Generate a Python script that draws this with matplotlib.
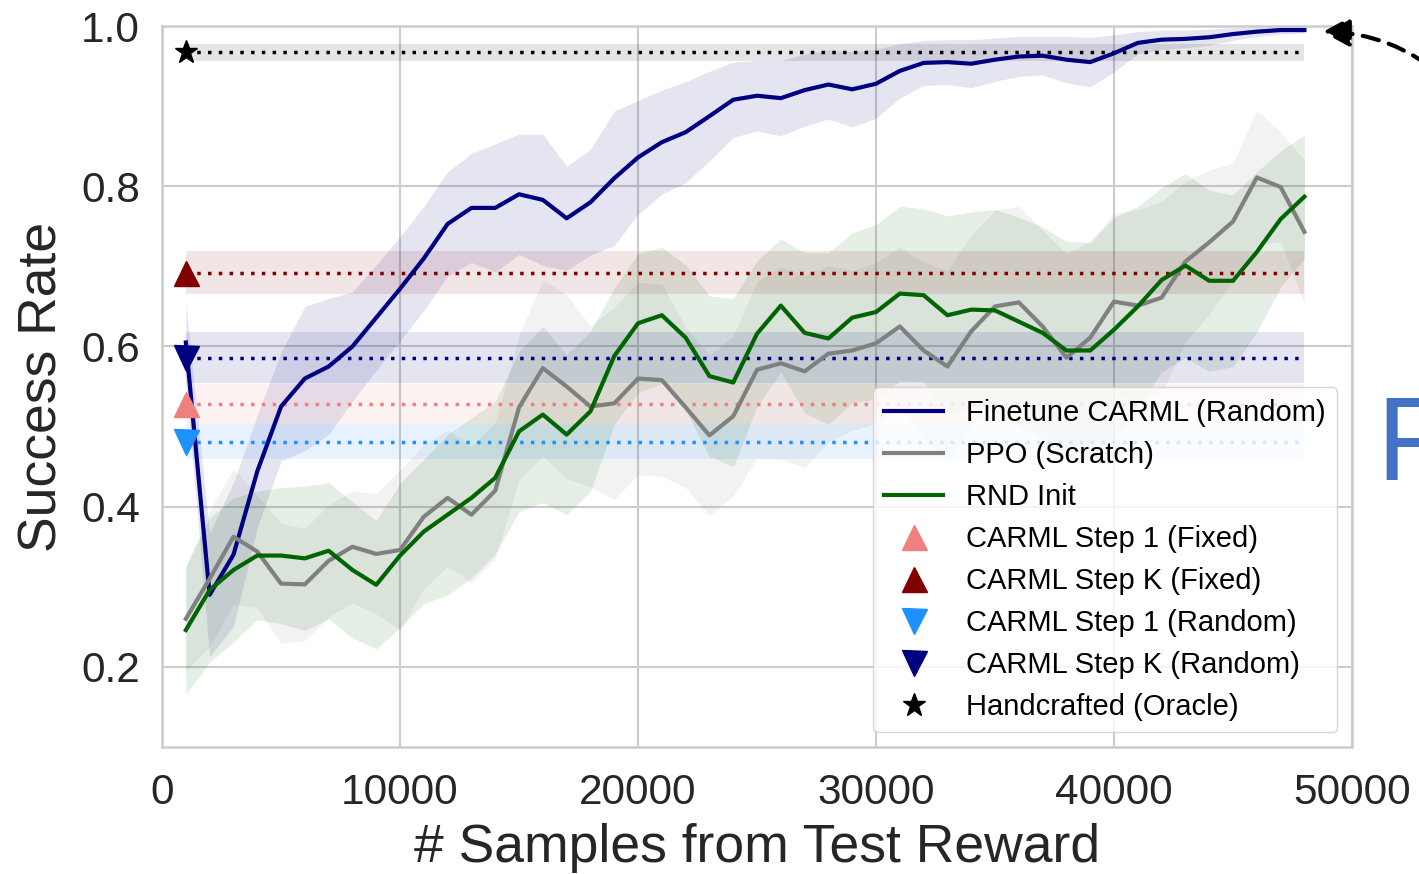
import matplotlib.pyplot as plt
import numpy as np

plt.rcParams["font.family"] = ["Liberation Sans", "DejaVu Sans"]

# x: samples from test reward (every 1000 steps)
samples = np.arange(1000, 49000, 1000)

finetune_mean = [0.605, 0.29, 0.34, 0.444, 0.525, 0.56, 0.575, 0.60, 0.636, 0.672,
                 0.71, 0.753, 0.773, 0.773, 0.79, 0.783, 0.76, 0.78, 0.81, 0.836,
                 0.855, 0.8675, 0.8875, 0.908, 0.913, 0.91, 0.92, 0.927, 0.921, 0.928,
                 0.944, 0.954, 0.955, 0.953, 0.958, 0.962, 0.963, 0.958, 0.955, 0.966,
                 0.979, 0.983, 0.984, 0.986, 0.99, 0.993, 0.995, 0.995]
finetune_std = [0.05, 0.077, 0.09, 0.07, 0.068, 0.09, 0.085, 0.068, 0.066, 0.065,
                0.065, 0.065, 0.068, 0.08, 0.075, 0.082, 0.065, 0.066, 0.084, 0.071,
                0.065, 0.063, 0.056, 0.047, 0.044, 0.047, 0.045, 0.043, 0.047, 0.043,
                0.034, 0.028, 0.028, 0.03, 0.027, 0.025, 0.024, 0.029, 0.031, 0.023,
                0.014, 0.012, 0.011, 0.01, 0.008, 0.006, 0.005, 0.004]

ppo_mean = [0.26, 0.31, 0.3625, 0.344, 0.304, 0.303, 0.3325, 0.35, 0.341, 0.346,
            0.3875, 0.411, 0.39, 0.42, 0.524, 0.573, 0.55, 0.525, 0.529, 0.56,
            0.558, 0.524, 0.489, 0.513, 0.571, 0.579, 0.569, 0.591, 0.595, 0.604,
            0.625, 0.595, 0.575, 0.619, 0.65, 0.655, 0.625, 0.586, 0.611, 0.656,
            0.651, 0.661, 0.706, 0.73, 0.756, 0.811, 0.799, 0.743]
ppo_std = [0.065, 0.085, 0.085, 0.07, 0.075, 0.07, 0.07, 0.07, 0.075, 0.1,
           0.09, 0.085, 0.085, 0.085, 0.09, 0.11, 0.115, 0.1, 0.12, 0.12,
           0.12, 0.1, 0.1, 0.1, 0.11, 0.12, 0.12, 0.11, 0.1, 0.1,
           0.1, 0.11, 0.12, 0.12, 0.12, 0.12, 0.12, 0.13, 0.12, 0.11,
           0.12, 0.12, 0.1, 0.09, 0.073, 0.084, 0.068, 0.09]

rnd_mean = [0.246, 0.296, 0.321, 0.339, 0.339, 0.3355, 0.345, 0.321, 0.3025, 0.339,
            0.369, 0.39, 0.411, 0.436, 0.494, 0.515, 0.49, 0.519, 0.588, 0.629,
            0.639, 0.611, 0.563, 0.555, 0.616, 0.651, 0.617, 0.61, 0.636, 0.643,
            0.666, 0.664, 0.639, 0.646, 0.645, 0.631, 0.617, 0.595, 0.595, 0.621,
            0.65, 0.683, 0.701, 0.682, 0.682, 0.718, 0.759, 0.787]
rnd_std = [0.08, 0.09, 0.09, 0.08, 0.085, 0.09, 0.085, 0.085, 0.08, 0.09,
           0.09, 0.1, 0.1, 0.095, 0.1, 0.11, 0.1, 0.1, 0.085, 0.087,
           0.085, 0.091, 0.1, 0.105, 0.091, 0.083, 0.1, 0.107, 0.106, 0.109,
           0.109, 0.108, 0.124, 0.122, 0.126, 0.13, 0.132, 0.136, 0.135, 0.14,
           0.125, 0.115, 0.115, 0.113, 0.107, 0.1, 0.085, 0.077]

# constant baselines: (label, mean, std, colour, marker, marker size)
step1_fixed = ("CARML Step 1 (Fixed)", 0.528, 0.025, "lightcoral", "^", 18)
stepk_fixed = ("CARML Step K (Fixed)", 0.692, 0.027, "maroon", "^", 18)
step1_random = ("CARML Step 1 (Random)", 0.481, 0.022, "dodgerblue", "v", 18)
stepk_random = ("CARML Step K (Random)", 0.586, 0.032, "navy", "v", 18)
oracle = ("Handcrafted (Oracle)", 0.967, 0.011, "black", "*", 17)

fig = plt.figure(figsize=(14.19, 8.74), dpi=100)
ax = fig.add_axes([0.1142, 0.1453, 0.8386, 0.8249])

curves = [
    ("Finetune CARML (Random)", finetune_mean, finetune_std, "navy"),
    ("PPO (Scratch)", ppo_mean, ppo_std, "gray"),
    ("RND Init", rnd_mean, rnd_std, "darkgreen"),
]
for label, mean, std, color in curves:
    mean = np.array(mean)
    std = np.array(std)
    ax.fill_between(samples, mean - std, mean + std, color=color, alpha=0.1, linewidth=0)
for label, mean, std, color in curves:
    ax.plot(samples, mean, color=color, linewidth=3.0, label=label, zorder=4)

dotted = (0, (1, 2.1))
for label, val, std, color, marker, ms in [step1_fixed, stepk_fixed, step1_random, stepk_random, oracle]:
    flat = np.full(len(samples), val)
    ax.fill_between(samples, flat - std, flat + std, color=color, alpha=0.1, linewidth=0)
    ax.plot(samples, flat, linestyle=dotted, color=color, linewidth=2.5, zorder=3)
    ax.plot(samples[:1], flat[:1], linestyle="none", marker=marker, markersize=ms,
            color=color, label=label, zorder=5)

ax.set_xlim(0, 50000)
ax.set_ylim(0.1, 1.0)
ax.set_xticks([0, 10000, 20000, 30000, 40000, 50000])
ax.set_yticks([0.2, 0.4, 0.6, 0.8, 1.0])
ax.grid(True, color="#cccccc", linewidth=1.5)
ax.set_axisbelow(True)
for sp in ax.spines.values():
    sp.set_color("#cccccc")
    sp.set_linewidth(1.8)
ax.tick_params(axis="both", length=0, labelsize=30.5, colors="#262626")
ax.tick_params(axis="x", pad=19)
ax.tick_params(axis="y", pad=16)
ax.set_xlabel("# Samples from Test Reward", fontsize=38.5, color="#262626", labelpad=7)
ax.set_ylabel("Success Rate", fontsize=38.5, color="#262626", labelpad=10)

ax.legend(loc="lower right", fontsize=21, labelspacing=0.48, framealpha=0.8,
          edgecolor="#cccccc", fancybox=True)

# pieces of the surrounding figure that reach into this crop
ax.annotate("", xy=(48760, 0.9925), xycoords="data",
            xytext=(1540, 660), textcoords="figure pixels",
            annotation_clip=False,
            arrowprops=dict(arrowstyle="-|>,head_length=0.55,head_width=0.3",
                            color="black", linewidth=3,
                            linestyle=(0, (4, 2.5)), mutation_scale=30,
                            shrinkA=0, shrinkB=0,
                            connectionstyle="angle3,angleA=115,angleB=0"))
fig.text(0.9697, 0.4508, "F", fontsize=85, color="#4472c4", ha="left", va="baseline")

fig.savefig("out.png", dpi=100)
